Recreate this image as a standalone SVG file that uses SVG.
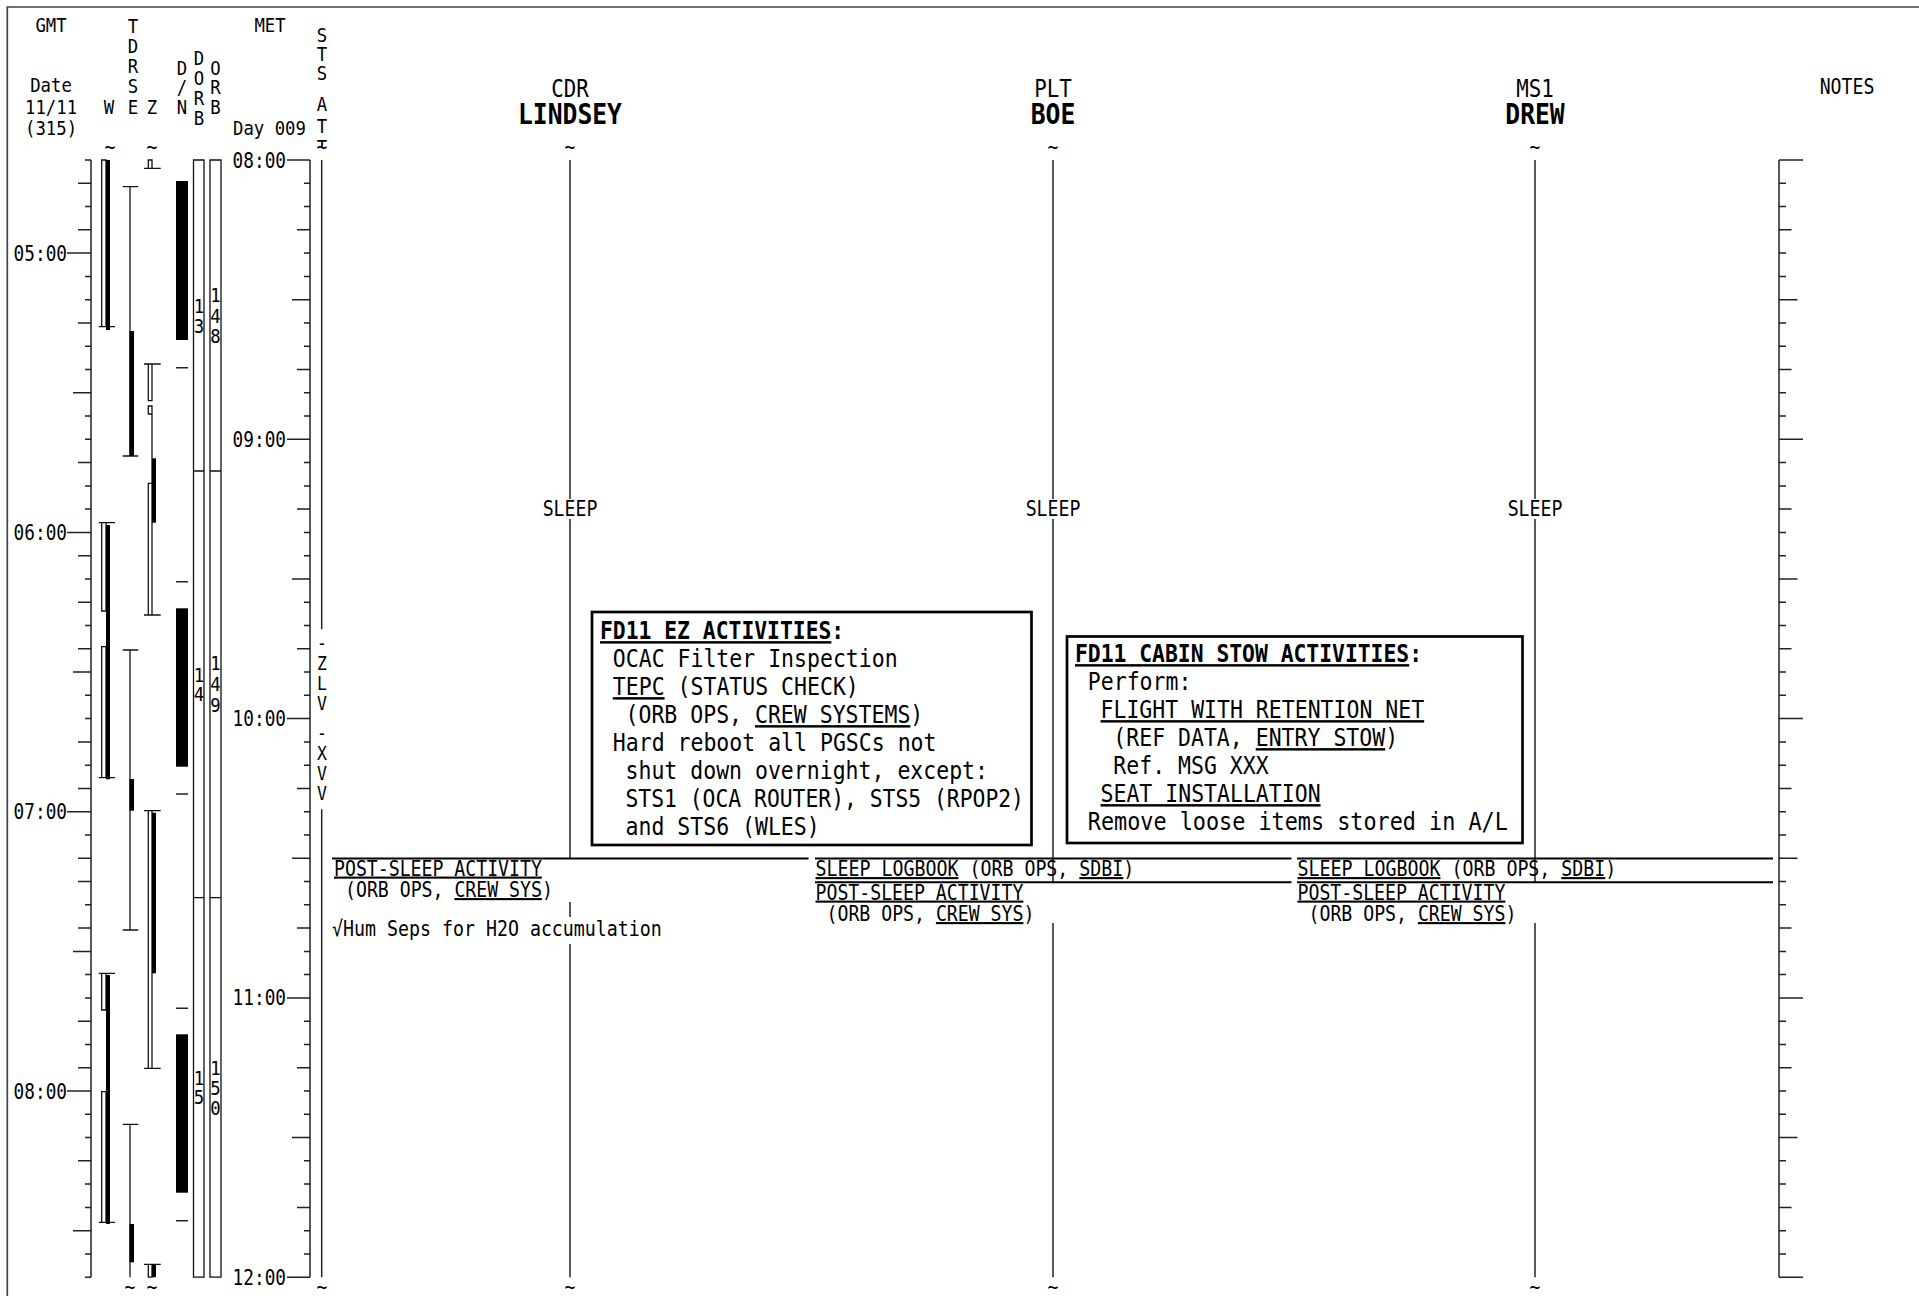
<svg xmlns="http://www.w3.org/2000/svg" width="1919" height="1296" viewBox="0 0 1919 1296">
<style>
.f{font-family:"DejaVu Sans Mono","Liberation Mono",monospace;fill:#000}
.b{font-weight:bold}
.u{text-decoration:underline}
.ax{fill:none;stroke:#222;stroke-width:1.5}
.thin{fill:none;stroke:#111;stroke-width:1.3}
.blk{fill:#000}
.act{fill:none;stroke:#000;stroke-width:2}
.box{fill:#fff;stroke:#000;stroke-width:2.7}
</style>
<defs>
<clipPath id="cT"><rect x="300" y="120" width="40" height="27"/></clipPath>
</defs>
<rect width="1919" height="1296" fill="#fff"/>
<path d="M7.3 1296V7H1919" fill="none" stroke="#444" stroke-width="1.7"/>

<g id="header">
<text class="f" font-size="20" text-anchor="middle" transform="matrix(.866 0 0 1 51 31.5)">GMT</text>
<text class="f" font-size="20" text-anchor="middle" transform="matrix(.866 0 0 1 51 92)">Date</text>
<text class="f" font-size="20" text-anchor="middle" transform="matrix(.866 0 0 1 51 113.5)">11/11</text>
<text class="f" font-size="20" text-anchor="middle" transform="matrix(.866 0 0 1 51 135)">(315)</text>
<text class="f" font-size="20" text-anchor="middle" transform="matrix(.866 0 0 1 109 113.5)">W</text>
<text class="f" font-size="20" text-anchor="middle" transform="matrix(.866 0 0 1 133 33)">T</text>
<text class="f" font-size="20" text-anchor="middle" transform="matrix(.866 0 0 1 133 53)">D</text>
<text class="f" font-size="20" text-anchor="middle" transform="matrix(.866 0 0 1 133 73)">R</text>
<text class="f" font-size="20" text-anchor="middle" transform="matrix(.866 0 0 1 133 93)">S</text>
<text class="f" font-size="20" text-anchor="middle" transform="matrix(.866 0 0 1 133 113.5)">E</text>
<text class="f" font-size="20" text-anchor="middle" transform="matrix(.866 0 0 1 152 113.5)">Z</text>
<text class="f" font-size="20" text-anchor="middle" transform="matrix(.866 0 0 1 182 75)">D</text>
<text class="f" font-size="20" text-anchor="middle" transform="matrix(.866 0 0 1 182 94)">/</text>
<text class="f" font-size="20" text-anchor="middle" transform="matrix(.866 0 0 1 182 113.5)">N</text>
<text class="f" font-size="20" text-anchor="middle" transform="matrix(.866 0 0 1 199 65)">D</text>
<text class="f" font-size="20" text-anchor="middle" transform="matrix(.866 0 0 1 199 85)">O</text>
<text class="f" font-size="20" text-anchor="middle" transform="matrix(.866 0 0 1 199 105)">R</text>
<text class="f" font-size="20" text-anchor="middle" transform="matrix(.866 0 0 1 199 125)">B</text>
<text class="f" font-size="20" text-anchor="middle" transform="matrix(.866 0 0 1 215.5 75)">O</text>
<text class="f" font-size="20" text-anchor="middle" transform="matrix(.866 0 0 1 215.5 94)">R</text>
<text class="f" font-size="20" text-anchor="middle" transform="matrix(.866 0 0 1 215.5 113.5)">B</text>
<text class="f" font-size="20" text-anchor="middle" transform="matrix(.866 0 0 1 270 32)">MET</text>
<text class="f" font-size="20" transform="matrix(.866 0 0 1 233 135)">Day 009</text>
<text class="f" font-size="20" text-anchor="middle" transform="matrix(.866 0 0 1 322 42)">S</text>
<text class="f" font-size="20" text-anchor="middle" transform="matrix(.866 0 0 1 322 61)">T</text>
<text class="f" font-size="20" text-anchor="middle" transform="matrix(.866 0 0 1 322 80)">S</text>
<text class="f" font-size="20" text-anchor="middle" transform="matrix(.866 0 0 1 322 111)">A</text>
<text class="f" font-size="20" text-anchor="middle" transform="matrix(.866 0 0 1 322 133)">T</text>
<g clip-path="url(#cT)"><text class="f" font-size="20" text-anchor="middle" transform="matrix(.866 0 0 1 322 153.6)">T</text></g>
<text class="f" font-size="24" text-anchor="middle" transform="matrix(.866 0 0 1 570 96.7)">CDR</text>
<text class="f b" font-size="28.5" text-anchor="middle" transform="matrix(.866 0 0 1 570 123.6)">LINDSEY</text>
<text class="f" font-size="24" text-anchor="middle" transform="matrix(.866 0 0 1 1053 96.7)">PLT</text>
<text class="f b" font-size="28.5" text-anchor="middle" transform="matrix(.866 0 0 1 1053 123.6)">BOE</text>
<text class="f" font-size="24" text-anchor="middle" transform="matrix(.866 0 0 1 1535 96.7)">MS1</text>
<text class="f b" font-size="28.5" text-anchor="middle" transform="matrix(.866 0 0 1 1535 123.6)">DREW</text>
<text class="f" font-size="21" text-anchor="middle" transform="matrix(.866 0 0 1 1847 94)">NOTES</text>
</g>

<g id="tildes">
<text class="f" font-size="21" text-anchor="middle" transform="matrix(.866 0 0 1 110 153.5)">~</text>
<text class="f" font-size="21" text-anchor="middle" transform="matrix(.866 0 0 1 152 153.5)">~</text>
<text class="f" font-size="21" text-anchor="middle" transform="matrix(.866 0 0 1 322 153.5)">~</text>
<text class="f" font-size="21" text-anchor="middle" transform="matrix(.866 0 0 1 570 153.5)">~</text>
<text class="f" font-size="21" text-anchor="middle" transform="matrix(.866 0 0 1 1053 153.5)">~</text>
<text class="f" font-size="21" text-anchor="middle" transform="matrix(.866 0 0 1 1535 153.5)">~</text>
<text class="f" font-size="21" text-anchor="middle" transform="matrix(.866 0 0 1 130 1293.5)">~</text>
<text class="f" font-size="21" text-anchor="middle" transform="matrix(.866 0 0 1 152 1293.5)">~</text>
<text class="f" font-size="21" text-anchor="middle" transform="matrix(.866 0 0 1 322 1293.5)">~</text>
<text class="f" font-size="21" text-anchor="middle" transform="matrix(.866 0 0 1 570 1293.5)">~</text>
<text class="f" font-size="21" text-anchor="middle" transform="matrix(.866 0 0 1 1053 1293.5)">~</text>
<text class="f" font-size="21" text-anchor="middle" transform="matrix(.866 0 0 1 1535 1293.5)">~</text>
</g>

<g id="gmt-axis">
<path class="ax" d="M91 160V1277.2 M85 160H91 M78 183.3H91 M85 206.6H91 M78 229.8H91 M67 253.1H91 M85 276.4H91 M85 299.7H91 M78 322.9H91 M85 346.2H91 M85 369.5H91 M73 392.8H91 M85 416H91 M85 439.3H91 M78 462.6H91 M85 485.9H91 M85 509.1H91 M67 532.4H91 M78 555.7H91 M85 579H91 M78 602.2H91 M85 625.5H91 M78 648.8H91 M73 672.1H91 M85 695.3H91 M85 718.6H91 M78 741.9H91 M85 765.2H91 M78 788.4H91 M67 811.7H91 M85 835H91 M78 858.3H91 M78 881.5H91 M85 904.8H91 M78 928.1H91 M73 951.4H91 M85 974.6H91 M85 997.9H91 M78 1021.2H91 M85 1044.5H91 M78 1067.7H91 M67 1091H91 M85 1114.3H91 M85 1137.6H91 M78 1160.8H91 M85 1184.1H91 M85 1207.4H91 M73 1230.7H91 M85 1253.9H91 M85 1277.2H91"/>
<text class="f" font-size="20.5" text-anchor="end" transform="matrix(.866 0 0 1 67 260.6)">05:00</text>
<text class="f" font-size="20.5" text-anchor="end" transform="matrix(.866 0 0 1 67 539.9)">06:00</text>
<text class="f" font-size="20.5" text-anchor="end" transform="matrix(.866 0 0 1 67 819.2)">07:00</text>
<text class="f" font-size="20.5" text-anchor="end" transform="matrix(.866 0 0 1 67 1098.5)">08:00</text>
</g>

<g id="tdrs-w">
<path class="thin" d="M101.7 160H106V326.7H101.7Z M101.7 522.7H106V611H101.7Z M101.7 646.7H106V777.7H101.7Z M101.7 973.3H106V1010H101.7Z M101.7 1091.7H106V1222.3H101.7Z M98.7 326.7H115 M98.7 522.7H115 M98.7 777.7H115 M98.7 973.3H115 M98.7 1222.3H115"/>
<rect class="blk" x="106" y="160" width="4" height="170"/>
<rect class="blk" x="106" y="525" width="4" height="254.3"/>
<rect class="blk" x="106" y="975" width="4" height="249"/>
</g>
<g id="tdrs-e">
<path class="thin" d="M130 186.7V456 M130 650V930 M130 1124.3V1277.2 M122.7 186.7H138.3 M122.7 456H138.3 M122.7 650H138.3 M122.7 930H138.3 M122.7 1124.3H138.3"/>
<rect class="blk" x="129.5" y="331" width="4.5" height="125"/>
<rect class="blk" x="129.5" y="779" width="4.5" height="31.7"/>
<rect class="blk" x="129.5" y="1224" width="4.5" height="38.3"/>
</g>
<g id="tdrs-z">
<path class="thin" d="M148.3 160H152V168.3H148.3Z M148.3 364H152V400.7H148.3Z M148.3 406H152V414H148.3Z M152 414V483.3 M148.3 483.3H152V615H148.3Z M148.3 810.7H152V1068.3H148.3Z M148.3 1264.3H152V1277.2H148.3Z M144 168.3H160.7 M144 364H160.7 M144 615H160.7 M144 810.7H160.7 M144 1068.3H160.7 M144 1264.3H160.7"/>
<rect class="blk" x="152" y="458.3" width="4" height="64.4"/>
<rect class="blk" x="152" y="812.7" width="4" height="160.6"/>
<rect class="blk" x="152" y="1264.3" width="4" height="12.9"/>
</g>
<g id="day-night">
<rect class="blk" x="176" y="181" width="12" height="159"/>
<rect class="blk" x="176" y="608.3" width="12" height="158.4"/>
<rect class="blk" x="176" y="1034.3" width="12" height="158.4"/>
<path class="ax" d="M176 367.7H188 M176 581.7H188 M176 794H188 M176 1008.3H188 M176 1220.7H188"/>
</g>
<g id="orbit">
<path class="thin" d="M193.5 160H204V1277.2H193.5Z M210 160H221V1277.2H210Z M193.5 471H204 M193.5 897.7H204 M210 471H221 M210 897.7H221" stroke-width="1.5"/>
<text class="f" font-size="20" text-anchor="middle" transform="matrix(.866 0 0 1 199 313)">1</text>
<text class="f" font-size="20" text-anchor="middle" transform="matrix(.866 0 0 1 199 333)">3</text>
<text class="f" font-size="20" text-anchor="middle" transform="matrix(.866 0 0 1 215.5 302)">1</text>
<text class="f" font-size="20" text-anchor="middle" transform="matrix(.866 0 0 1 215.5 322.5)">4</text>
<text class="f" font-size="20" text-anchor="middle" transform="matrix(.866 0 0 1 215.5 343)">8</text>
<text class="f" font-size="20" text-anchor="middle" transform="matrix(.866 0 0 1 199 681.5)">1</text>
<text class="f" font-size="20" text-anchor="middle" transform="matrix(.866 0 0 1 199 701)">4</text>
<text class="f" font-size="20" text-anchor="middle" transform="matrix(.866 0 0 1 215.5 670)">1</text>
<text class="f" font-size="20" text-anchor="middle" transform="matrix(.866 0 0 1 215.5 691)">4</text>
<text class="f" font-size="20" text-anchor="middle" transform="matrix(.866 0 0 1 215.5 711.5)">9</text>
<text class="f" font-size="20" text-anchor="middle" transform="matrix(.866 0 0 1 199 1085)">1</text>
<text class="f" font-size="20" text-anchor="middle" transform="matrix(.866 0 0 1 199 1104)">5</text>
<text class="f" font-size="20" text-anchor="middle" transform="matrix(.866 0 0 1 215.5 1075)">1</text>
<text class="f" font-size="20" text-anchor="middle" transform="matrix(.866 0 0 1 215.5 1095)">5</text>
<text class="f" font-size="20" text-anchor="middle" transform="matrix(.866 0 0 1 215.5 1115)">0</text>
</g>

<g id="met-axis">
<path class="ax" d="M310 160V1277.2 M287 160H310 M304 183.3H310 M304 206.6H310 M297 229.8H310 M304 253.1H310 M304 276.4H310 M292 299.7H310 M304 322.9H310 M304 346.2H310 M297 369.5H310 M304 392.8H310 M304 416H310 M287 439.3H310 M304 462.6H310 M304 485.9H310 M297 509.1H310 M304 532.4H310 M304 555.7H310 M292 579H310 M304 602.2H310 M304 625.5H310 M297 648.8H310 M304 672.1H310 M304 695.3H310 M287 718.6H310 M304 741.9H310 M304 765.2H310 M297 788.4H310 M304 811.7H310 M304 835H310 M292 858.3H310 M304 881.5H310 M304 904.8H310 M297 928.1H310 M304 951.4H310 M304 974.6H310 M287 997.9H310 M304 1021.2H310 M304 1044.5H310 M297 1067.7H310 M304 1091H310 M304 1114.3H310 M292 1137.6H310 M304 1160.8H310 M304 1184.1H310 M297 1207.4H310 M304 1230.7H310 M304 1253.9H310 M287 1277.2H310"/>
<text class="f" font-size="20.5" text-anchor="end" transform="matrix(.866 0 0 1 286 167.5)">08:00</text>
<text class="f" font-size="20.5" text-anchor="end" transform="matrix(.866 0 0 1 286 446.8)">09:00</text>
<text class="f" font-size="20.5" text-anchor="end" transform="matrix(.866 0 0 1 286 726.1)">10:00</text>
<text class="f" font-size="20.5" text-anchor="end" transform="matrix(.866 0 0 1 286 1005.4)">11:00</text>
<text class="f" font-size="20.5" text-anchor="end" transform="matrix(.866 0 0 1 286 1284.7)">12:00</text>
</g>

<g id="sts-att">
<path class="ax" d="M321.7 160V629.3 M321.7 809.3V1277.2"/>
<text class="f" font-size="19" text-anchor="middle" transform="matrix(.866 0 0 1 322 650)">-</text>
<text class="f" font-size="19" text-anchor="middle" transform="matrix(.866 0 0 1 322 670)">Z</text>
<text class="f" font-size="19" text-anchor="middle" transform="matrix(.866 0 0 1 322 690)">L</text>
<text class="f" font-size="19" text-anchor="middle" transform="matrix(.866 0 0 1 322 710)">V</text>
<text class="f" font-size="19" text-anchor="middle" transform="matrix(.866 0 0 1 322 740)">-</text>
<text class="f" font-size="19" text-anchor="middle" transform="matrix(.866 0 0 1 322 760)">X</text>
<text class="f" font-size="19" text-anchor="middle" transform="matrix(.866 0 0 1 322 780)">V</text>
<text class="f" font-size="19" text-anchor="middle" transform="matrix(.866 0 0 1 322 800)">V</text>
</g>

<g id="crew-cdr">
<path class="ax" d="M570 160V499 M570 519V858.5 M570 902V917 M570 944V1277.2"/>
<text class="f" font-size="21" text-anchor="middle" transform="matrix(.866 0 0 1 570 515.5)">SLEEP</text>
</g>
<g id="crew-plt">
<path class="ax" d="M1053 160V499 M1053 519V882.3 M1053 923V1277.2"/>
<text class="f" font-size="21" text-anchor="middle" transform="matrix(.866 0 0 1 1053 515.5)">SLEEP</text>
</g>
<g id="crew-ms1">
<path class="ax" d="M1535 160V499 M1535 519V882.3 M1535 923V1277.2"/>
<text class="f" font-size="21" text-anchor="middle" transform="matrix(.866 0 0 1 1535 515.5)">SLEEP</text>
</g>

<g id="box-ez">
<rect class="box" x="592" y="612" width="439.5" height="233"/>
<text class="f b" font-size="24.5" transform="matrix(.872 0 0 1 600 639)"><tspan class="u">FD11 EZ ACTIVITIES</tspan>:</text>
<text class="f" font-size="24.5" transform="matrix(.878 0 0 1 612.8 667)">OCAC Filter Inspection</text>
<text class="f" font-size="24.5" transform="matrix(.878 0 0 1 612.8 695)"><tspan class="u">TEPC</tspan> (STATUS CHECK)</text>
<text class="f" font-size="24.5" transform="matrix(.878 0 0 1 625.5 723)">(ORB OPS, <tspan class="u">CREW SYSTEMS</tspan>)</text>
<text class="f" font-size="24.5" transform="matrix(.878 0 0 1 612.8 751)">Hard reboot all PGSCs not</text>
<text class="f" font-size="24.5" transform="matrix(.878 0 0 1 625.5 779)">shut down overnight, except:</text>
<text class="f" font-size="24.5" transform="matrix(.872 0 0 1 625.5 807)">STS1 (OCA ROUTER), STS5 (RPOP2)</text>
<text class="f" font-size="24.5" transform="matrix(.878 0 0 1 625.5 835)">and STS6 (WLES)</text>
</g>

<g id="box-stow">
<rect class="box" x="1067" y="636.5" width="455.5" height="206.5"/>
<text class="f b" font-size="24.5" transform="matrix(.872 0 0 1 1075 662)"><tspan class="u">FD11 CABIN STOW ACTIVITIES</tspan>:</text>
<text class="f" font-size="24.5" transform="matrix(.878 0 0 1 1087.8 690)">Perform:</text>
<text class="f" font-size="24.5" transform="matrix(.878 0 0 1 1100.5 718)"><tspan class="u">FLIGHT WITH RETENTION NET</tspan></text>
<text class="f" font-size="24.5" transform="matrix(.878 0 0 1 1113.3 746)">(REF DATA, <tspan class="u">ENTRY STOW</tspan>)</text>
<text class="f" font-size="24.5" transform="matrix(.878 0 0 1 1113.3 774)">Ref. MSG XXX</text>
<text class="f" font-size="24.5" transform="matrix(.878 0 0 1 1100.5 802)"><tspan class="u">SEAT INSTALLATION</tspan></text>
<text class="f" font-size="24.5" transform="matrix(.89 0 0 1 1087.8 830)">Remove loose items stored in A/L</text>
</g>

<g id="activities">
<path class="act" d="M332 858.5H808.5 M815 858.5H1291.5 M815 882.3H1291.5 M1297 858.5H1773 M1297 882.3H1773"/>
<text class="f" font-size="21" transform="matrix(.866 0 0 1 334 875.5)"><tspan class="u">POST-SLEEP ACTIVITY</tspan></text>
<text class="f" font-size="21" transform="matrix(.866 0 0 1 345 897)">(ORB OPS, <tspan class="u">CREW SYS</tspan>)</text>
<text class="f" font-size="21" transform="matrix(.87 0 0 1 332 936)">√Hum Seps for H2O accumulation</text>
<text class="f" font-size="21" transform="matrix(.87 0 0 1 815.5 876)"><tspan class="u">SLEEP LOGBOOK</tspan> (ORB OPS, <tspan class="u">SDBI</tspan>)</text>
<text class="f" font-size="21" transform="matrix(.866 0 0 1 815.5 899.5)"><tspan class="u">POST-SLEEP ACTIVITY</tspan></text>
<text class="f" font-size="21" transform="matrix(.866 0 0 1 826.5 921)">(ORB OPS, <tspan class="u">CREW SYS</tspan>)</text>
<text class="f" font-size="21" transform="matrix(.87 0 0 1 1297.5 876)"><tspan class="u">SLEEP LOGBOOK</tspan> (ORB OPS, <tspan class="u">SDBI</tspan>)</text>
<text class="f" font-size="21" transform="matrix(.866 0 0 1 1297.5 899.5)"><tspan class="u">POST-SLEEP ACTIVITY</tspan></text>
<text class="f" font-size="21" transform="matrix(.866 0 0 1 1308.5 921)">(ORB OPS, <tspan class="u">CREW SYS</tspan>)</text>
</g>

<g id="notes">
<path class="ax" d="M1779 160V1277.2 M1779 160H1803 M1779 183.3H1786 M1779 206.6H1786 M1779 229.8H1791.5 M1779 253.1H1786 M1779 276.4H1786 M1779 299.7H1797.5 M1779 322.9H1786 M1779 346.2H1786 M1779 369.5H1791.5 M1779 392.8H1786 M1779 416H1786 M1779 439.3H1803 M1779 462.6H1786 M1779 485.9H1786 M1779 509.1H1791.5 M1779 532.4H1786 M1779 555.7H1786 M1779 579H1797.5 M1779 602.2H1786 M1779 625.5H1786 M1779 648.8H1791.5 M1779 672.1H1786 M1779 695.3H1786 M1779 718.6H1803 M1779 741.9H1786 M1779 765.2H1786 M1779 788.4H1791.5 M1779 811.7H1786 M1779 835H1786 M1779 858.3H1797.5 M1779 881.5H1786 M1779 904.8H1786 M1779 928.1H1791.5 M1779 951.4H1786 M1779 974.6H1786 M1779 997.9H1803 M1779 1021.2H1786 M1779 1044.5H1786 M1779 1067.7H1791.5 M1779 1091H1786 M1779 1114.3H1786 M1779 1137.6H1797.5 M1779 1160.8H1786 M1779 1184.1H1786 M1779 1207.4H1791.5 M1779 1230.7H1786 M1779 1253.9H1786 M1779 1277.2H1803"/>
</g>
</svg>
